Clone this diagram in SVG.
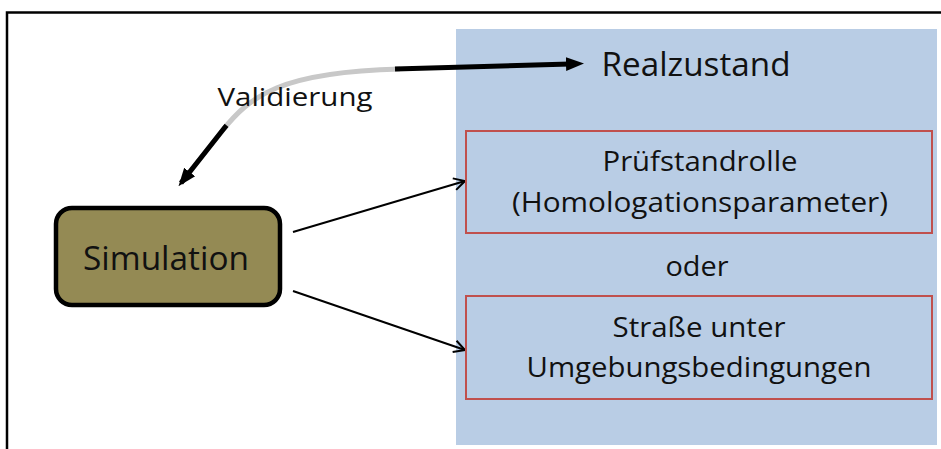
<svg xmlns="http://www.w3.org/2000/svg" width="941" height="449" viewBox="0 0 941 449">
  <defs>
    <style>
      .t { font-family: "Open Sans", "Noto Sans", "Liberation Sans", sans-serif; fill: #111; text-anchor: middle; }
      .frame { fill: none; stroke: #000; stroke-width: 2.5; }
      .panel { fill: #b9cde5; }
      .box { fill: none; stroke: #c0504d; stroke-width: 2; }
      .thin { fill: none; stroke: #000; stroke-width: 2; }
      .bold { fill: none; stroke: #000; stroke-width: 5; }
      .fade { fill: none; stroke: #c8c8c8; stroke-width: 5; }
    </style>
    <marker id="open" markerWidth="14" markerHeight="14" refX="12" refY="7" orient="auto" markerUnits="userSpaceOnUse">
      <path d="M1,1 L12,7 L1,13" fill="none" stroke="#000" stroke-width="2"/>
    </marker>
    <marker id="solid" markerWidth="18" markerHeight="16" refX="4" refY="8" orient="auto" markerUnits="userSpaceOnUse">
      <path d="M0,1 L18,8 L0,15 Z" fill="#000"/>
    </marker>
    <marker id="solidStart" markerWidth="18" markerHeight="16" refX="14" refY="8" orient="auto-start-reverse" markerUnits="userSpaceOnUse">
      <path d="M0,1 L18,8 L0,15 Z" fill="#000"/>
    </marker>
  </defs>

  <!-- outer frame (top and left edges) -->
  <path class="frame" d="M7,449 L7,12.5 L941,12.5"/>

  <!-- real-world panel -->
  <rect class="panel" x="456" y="29" width="481" height="416"/>

  <g id="connectors">
    <line class="thin" x1="293" y1="232" x2="465" y2="181" marker-end="url(#open)"/>
    <line class="thin" x1="293" y1="291" x2="465" y2="350" marker-end="url(#open)"/>
    <!-- validation loop: faded middle, solid ends -->
    <path class="fade" d="M181,183 L222,131 C250,96 280,72 400,69"/>
    <path class="bold" d="M181,183 L222,131 C250,96 280,72 400,69" pathLength="100" stroke-dasharray="28 200" marker-start="url(#solidStart)"/>
    <line class="bold" x1="395" y1="69" x2="570" y2="64" marker-end="url(#solid)"/>
  </g>

  <g id="realzustand">
    <text class="t" x="696" y="76" font-size="32" textLength="189" lengthAdjust="spacingAndGlyphs">Realzustand</text>
  </g>

  <g id="pruefstand">
    <rect class="box" x="466" y="131" width="466" height="102"/>
    <text class="t" x="700" y="171" font-size="28" textLength="195" lengthAdjust="spacingAndGlyphs">Prüfstandrolle</text>
    <text class="t" x="700" y="212" font-size="28" textLength="376" lengthAdjust="spacingAndGlyphs">(Homologationsparameter)</text>
  </g>

  <g id="oder">
    <text class="t" x="697" y="276" font-size="28" textLength="63" lengthAdjust="spacingAndGlyphs">oder</text>
  </g>

  <g id="strasse">
    <rect class="box" x="466" y="296" width="466" height="103"/>
    <text class="t" x="699" y="337" font-size="28" textLength="173" lengthAdjust="spacingAndGlyphs">Straße unter</text>
    <text class="t" x="699" y="377" font-size="28" textLength="345" lengthAdjust="spacingAndGlyphs">Umgebungsbedingungen</text>
  </g>

  <g id="simulation">
    <rect x="56" y="208" width="224" height="97" rx="16" ry="16" fill="#948a54" stroke="#000" stroke-width="4.5"/>
    <text class="t" x="166" y="270" font-size="33" textLength="166" lengthAdjust="spacingAndGlyphs">Simulation</text>
  </g>

  <g id="validierung-label">
    <text class="t" x="295" y="106" font-size="26" textLength="155" lengthAdjust="spacingAndGlyphs">Validierung</text>
  </g>
</svg>
